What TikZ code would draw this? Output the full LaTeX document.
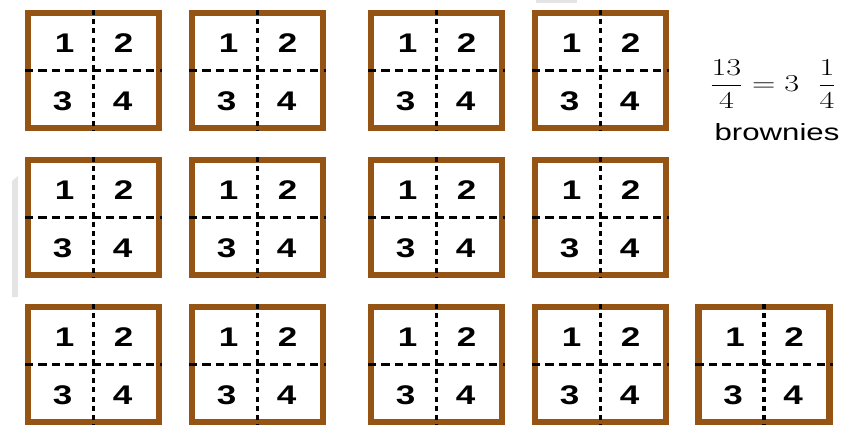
\documentclass[tikz,border=0pt]{standalone}
\usepackage{amsmath}
\usepackage{fontspec}
\usepackage{tikz}
\usetikzlibrary{positioning}
\newfontfamily\browniefont{Liberation Sans}
\definecolor{brownframe}{RGB}{150, 84, 20}
\definecolor{artifactgray}{RGB}{228, 228, 228}

\begin{document}
\begin{tikzpicture}[
    x=0.03cm, y=-0.03cm,
    brownie/.style={rectangle, draw=brownframe, line width=5.5pt, minimum width=3.92cm, minimum height=3.44cm, inner sep=0pt},
    hcut/.style={line width=2.7pt, dash pattern=on 7pt off 4.5pt},
    vcut/.style={line width=2.7pt, dash pattern=on 4.3pt off 3.6pt},
    piece/.style={font=\fontsize{23}{23}\selectfont\browniefont\bfseries, inner sep=0pt, xscale=1.3, transform shape},
    label/.style={inner sep=0pt, xscale=1.33, transform shape}
]
\useasboundingbox (0,0) rectangle (841,426);

% faint marks of the screenshot
\fill[artifactgray] (12,181) -- (18,176) -- (18,297) -- (12,297) -- cycle;
\fill[artifactgray] (536,0) rectangle (577,3);

% brownies, each cut into four pieces
\foreach \n/\x/\y in {a/93.5/70.5, b/257.5/70.5, c/436.5/70.5, d/600.5/70.5,
                      e/93.5/217.5, f/257.5/217.5, g/436.5/217.5, h/600.5/217.5,
                      i/93.5/364.5, j/257.5/364.5, k/436.5/364.5, l/600.5/364.5, m/764/364.5} {
    \node[brownie] (box-\n) at (\x,\y) {};
    \draw[hcut] (box-\n.west) -- (box-\n.east);
    \draw[vcut] (box-\n.north) -- (box-\n.south);
    \node[piece] (p1-\n) at ([shift={(-29,-27)}]box-\n.center) {1};
    \node[piece] (p2-\n) at ([shift={(30,-27)}]box-\n.center) {2};
    \node[piece] (p3-\n) at ([shift={(-31,31)}]box-\n.center) {3};
    \node[piece] (p4-\n) at ([shift={(29,31)}]box-\n.center) {4};
}

% result
\node[label, font=\fontsize{20}{24}\selectfont] (result) at (773,84) {$\dfrac{13}{4} = 3\;\ \dfrac{1}{4}$};
\node[label, font=\fontsize{20}{24}\selectfont\browniefont, anchor=base] (word) at (777,140) {brownies};

\end{tikzpicture}
\end{document}
